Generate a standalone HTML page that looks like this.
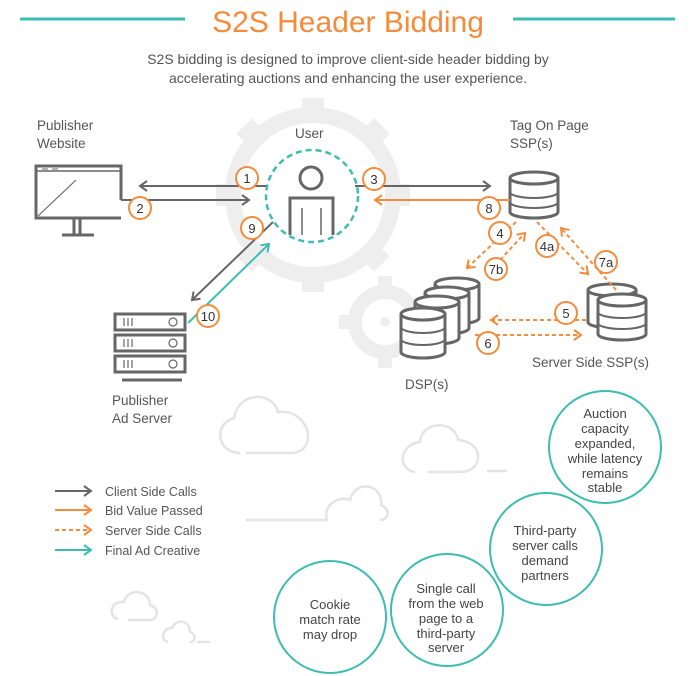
<!DOCTYPE html>
<html><head><meta charset="utf-8"><style>
html,body{margin:0;padding:0;background:#fff;}
svg{display:block;font-family:"Liberation Sans",sans-serif;}
</style></head><body>
<svg width="700" height="676" viewBox="0 0 700 676" xmlns="http://www.w3.org/2000/svg">
<defs>
<marker id="ag" markerWidth="10" markerHeight="12" refX="8" refY="6" orient="auto" markerUnits="userSpaceOnUse"><path d="M1,1 L8,6 L1,11" fill="none" stroke="#666" stroke-width="2"/></marker>
<marker id="ao" markerWidth="10" markerHeight="12" refX="8" refY="6" orient="auto" markerUnits="userSpaceOnUse"><path d="M1,1 L8,6 L1,11" fill="none" stroke="#f58b3c" stroke-width="2"/></marker>
<marker id="at" markerWidth="10" markerHeight="12" refX="8" refY="6" orient="auto" markerUnits="userSpaceOnUse"><path d="M1,1 L8,6 L1,11" fill="none" stroke="#3dbdb0" stroke-width="2"/></marker>
</defs>

<!-- header -->
<line x1="20" y1="19" x2="185" y2="19" stroke="#3dbdb0" stroke-width="3"/>
<line x1="513" y1="19" x2="675" y2="19" stroke="#3dbdb0" stroke-width="3"/>
<text x="348" y="32" text-anchor="middle" font-size="30" fill="#f58b3c">S2S Header Bidding</text>
<text x="348" y="64" text-anchor="middle" font-size="14" fill="#555">S2S bidding is designed to improve client-side header bidding by</text>
<text x="348" y="83" text-anchor="middle" font-size="14" fill="#555">accelerating  auctions and enhancing the user experience.</text>

<!-- gears -->
<g stroke="#eeeeee" fill="none">
<circle cx="313" cy="195" r="80" stroke-width="16"/>
<g stroke-width="22">
<line x1="313" y1="98" x2="313" y2="120"/><line x1="313" y1="270" x2="313" y2="292"/>
<line x1="216" y1="195" x2="238" y2="195"/><line x1="388" y1="195" x2="410" y2="195"/>
<line x1="244" y1="126" x2="260" y2="142"/><line x1="366" y1="248" x2="382" y2="264"/>
<line x1="382" y1="126" x2="366" y2="142"/><line x1="260" y1="248" x2="244" y2="264"/>
</g>
<circle cx="385" cy="322" r="30" stroke-width="14"/>
<g stroke-width="14">
<line x1="385" y1="276" x2="385" y2="290"/><line x1="385" y1="354" x2="385" y2="368"/>
<line x1="339" y1="322" x2="353" y2="322"/><line x1="417" y1="322" x2="431" y2="322"/>
</g>
<circle cx="385" cy="322" r="5" fill="#eeeeee" stroke-width="0"/>
</g>

<!-- clouds -->
<g fill="none" stroke="#e4e4e4" stroke-width="2.5">
<path d="M240,453 C218,453 212,425 234,418 C238,392 272,390 278,412 C310,408 320,453 290,453 L246,453"/>
<path d="M415,472 C398,470 398,445 420,442 C422,420 455,420 458,440 C485,442 484,472 460,472 L428,472"/>
<line x1="487" y1="471" x2="507" y2="471"/>
<path d="M246,520 L327,520 C322,505 340,495 350,500 C356,478 384,485 381,505 C392,510 388,520 380,520"/>
<path d="M118,619 C108,617 110,600 124,602 C128,587 150,590 150,605 C160,608 158,620 150,620 L128,620"/>
<path d="M168,642 C160,640 162,628 172,628 C176,618 190,620 190,632 C196,634 196,642 190,642"/>
<line x1="197" y1="642" x2="210" y2="642"/>
</g>

<!-- labels -->
<g font-size="13.5" fill="#555">
<text x="37" y="130">Publisher</text><text x="37" y="148">Website</text>
<text x="295" y="138">User</text>
<text x="510" y="130">Tag On Page</text><text x="510" y="148">SSP(s)</text>
<text x="112" y="405">Publisher</text><text x="112" y="423">Ad Server</text>
<text x="532" y="367">Server Side SSP(s)</text>
<text x="405" y="389">DSP(s)</text>
</g>

<!-- monitor -->
<g stroke="#666" stroke-width="3" fill="none">
<path d="M121,218 L36,218 L36,166 L121,166 L121,200"/>
<line x1="36" y1="171" x2="121" y2="171" stroke-width="1.5"/>
<line x1="42" y1="169" x2="48" y2="169" stroke-width="1"/><line x1="52" y1="169" x2="58" y2="169" stroke-width="1"/>
<line x1="38" y1="216" x2="76" y2="180" stroke-width="1.2"/>
<line x1="74" y1="218" x2="74" y2="234"/><line x1="80" y1="218" x2="80" y2="234"/>
<line x1="62" y1="235" x2="94" y2="235"/>
</g>

<!-- user -->
<circle cx="312" cy="196" r="46" fill="none" stroke="#3dbdb0" stroke-width="2.5" stroke-dasharray="6,4"/>
<g stroke="#666" stroke-width="3" fill="none">
<circle cx="311" cy="178" r="11"/>
<path d="M290,235 L290,198 L333,198 L333,235"/>
<line x1="302" y1="208" x2="302" y2="235" stroke-width="1.5"/><line x1="321" y1="208" x2="321" y2="235" stroke-width="1.5"/>
</g>

<!-- ad server -->
<g stroke="#666" stroke-width="3" fill="#fff">
<rect x="115" y="314" width="70" height="16"/><rect x="115" y="335" width="70" height="16"/><rect x="115" y="356" width="70" height="16"/>
<line x1="122" y1="380" x2="182" y2="380"/>
</g>
<g stroke="#666" stroke-width="1.2" fill="none">
<path d="M124,318v8M128,318v8M132,318v8M124,339v8M128,339v8M132,339v8M124,360v8M128,360v8M132,360v8"/>
<circle cx="173" cy="322" r="4"/><circle cx="173" cy="343" r="4"/><circle cx="173" cy="364" r="4"/>
</g>

<!-- cylinders -->
<g id="cyls" stroke="#666" stroke-width="3" fill="#fff">
<!-- tag on page -->
<path d="M510,178 L510,212 A24,6 0 0 0 558,212 L558,178"/><ellipse cx="534" cy="178" rx="24" ry="6"/>
<path d="M510,192 A24,6 0 0 0 558,192 M510,202 A24,6 0 0 0 558,202" fill="none" stroke-width="2"/>
<!-- server side -->
<path d="M588,290 L588,322 A24,6 0 0 0 636,322 L636,290"/><ellipse cx="612" cy="290" rx="24" ry="6"/>
<path d="M598,300 L598,334 A24,6 0 0 0 646,334 L646,300"/><ellipse cx="622" cy="300" rx="24" ry="6"/>
<path d="M598,312 A24,6 0 0 0 646,312 M598,323 A24,6 0 0 0 646,323" fill="none" stroke-width="2"/>
<!-- DSP -->
<path d="M435,284 L435,318 A22,6 0 0 0 479,318 L479,284"/><ellipse cx="457" cy="284" rx="22" ry="6"/>
<path d="M425,293 L425,328 A22,6 0 0 0 469,328 L469,293"/><ellipse cx="447" cy="293" rx="22" ry="6"/>
<path d="M415,302 L415,338 A22,6 0 0 0 459,338 L459,302"/><ellipse cx="437" cy="302" rx="22" ry="6"/>
<path d="M401,314 L401,352 A22,6 0 0 0 445,352 L445,314"/><ellipse cx="423" cy="314" rx="22" ry="6"/>
<path d="M401,327 A22,6 0 0 0 445,327 M401,339 A22,6 0 0 0 445,339" fill="none" stroke-width="2"/>
</g>

<!-- connectors -->
<g fill="none" stroke-width="2">
<line x1="266" y1="186" x2="140" y2="186" stroke="#666" marker-end="url(#ag)"/>
<line x1="121" y1="200" x2="249" y2="200" stroke="#666" marker-end="url(#ag)"/>
<line x1="355" y1="186" x2="490" y2="186" stroke="#666" marker-end="url(#ag)"/>
<line x1="510" y1="200" x2="375" y2="200" stroke="#f58b3c" marker-end="url(#ao)"/>
<line x1="273" y1="222" x2="192" y2="300" stroke="#666" marker-end="url(#ag)"/>
<line x1="188" y1="323" x2="269" y2="244" stroke="#3dbdb0" marker-end="url(#at)"/>
<g stroke="#f58b3c" stroke-dasharray="4,3">
<line x1="516" y1="222" x2="467" y2="268" marker-end="url(#ao)"/>
<line x1="500" y1="260" x2="525" y2="233" marker-end="url(#ao)"/>
<line x1="537" y1="222" x2="588" y2="274" marker-end="url(#ao)"/>
<line x1="616" y1="290" x2="561" y2="228" marker-end="url(#ao)"/>
<line x1="586" y1="320" x2="491" y2="320" marker-end="url(#ao)"/>
<line x1="475" y1="335" x2="581" y2="335" marker-end="url(#ao)"/>
</g>
</g>

<!-- number badges -->
<g font-size="13" fill="#333" text-anchor="middle">
<g fill="#fff" stroke="#f58b3c" stroke-width="2">
<circle cx="247" cy="178" r="11"/><circle cx="140" cy="208" r="11"/><circle cx="374" cy="179" r="11"/>
<circle cx="489" cy="208" r="11"/><circle cx="252" cy="228" r="11"/><circle cx="208" cy="316" r="11"/>
<circle cx="500" cy="233" r="11"/><circle cx="547" cy="246" r="11"/><circle cx="496" cy="269" r="11"/>
<circle cx="606" cy="262" r="11"/><circle cx="566" cy="313" r="11"/><circle cx="488" cy="343" r="11"/>
</g>
<text x="247" y="183">1</text><text x="140" y="213">2</text><text x="374" y="184">3</text>
<text x="489" y="213">8</text><text x="252" y="233">9</text><text x="208" y="321">10</text>
<text x="500" y="238">4</text><text x="547" y="251">4a</text><text x="496" y="274">7b</text>
<text x="606" y="267">7a</text><text x="566" y="318">5</text><text x="488" y="348">6</text>
</g>

<!-- legend -->
<g fill="none" stroke-width="2">
<line x1="55" y1="491" x2="91" y2="491" stroke="#666" marker-end="url(#ag)"/>
<line x1="55" y1="510" x2="91" y2="510" stroke="#f58b3c" marker-end="url(#ao)"/>
<line x1="55" y1="530" x2="91" y2="530" stroke="#f58b3c" stroke-dasharray="4,3" marker-end="url(#ao)"/>
<line x1="55" y1="550" x2="91" y2="550" stroke="#3dbdb0" marker-end="url(#at)"/>
</g>
<g font-size="12.5" fill="#555">
<text x="105" y="496">Client Side Calls</text><text x="105" y="515">Bid Value Passed</text>
<text x="105" y="535">Server Side Calls</text><text x="105" y="555">Final Ad Creative</text>
</g>

<!-- benefit circles -->
<g fill="#fff" stroke="#3dbdb0" stroke-width="2">
<circle cx="605" cy="447" r="56"/><circle cx="546" cy="549" r="56"/>
<circle cx="447" cy="610" r="56"/><circle cx="330" cy="617" r="56"/>
</g>
<g font-size="13" fill="#444" text-anchor="middle">
<text x="605" y="418">Auction</text><text x="605" y="433">capacity</text><text x="605" y="448">expanded,</text><text x="605" y="463">while latency</text><text x="605" y="478">remains</text><text x="605" y="492">stable</text>
<text x="545" y="535">Third-party</text><text x="545" y="550">server calls</text><text x="545" y="565">demand</text><text x="545" y="580">partners</text>
<text x="446" y="593">Single call</text><text x="446" y="608">from the web</text><text x="446" y="623">page to a</text><text x="446" y="638">third-party</text><text x="446" y="652">server</text>
<text x="330" y="609">Cookie</text><text x="330" y="624">match rate</text><text x="330" y="639">may drop</text>
</g>
</svg>
</body></html>
